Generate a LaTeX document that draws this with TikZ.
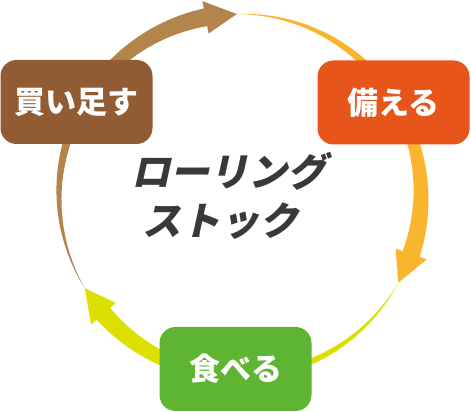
\documentclass[tikz,border=0pt]{standalone}
\usepackage{xcolor}
\usepackage{fontspec}
\newfontfamily\jpfont{Noto Sans CJK JP}
\newfontfamily\rollfont{Noto Sans CJK JP}[FakeSlant=0.22]
\definecolor{arrowBrown}{HTML}{B3844C}
\definecolor{arrowOrange}{HTML}{F8B52D}
\definecolor{arrowGreen}{HTML}{DCE000}
\definecolor{boxBrown}{HTML}{915C33}
\definecolor{boxOrange}{HTML}{E8551A}
\definecolor{boxGreen}{HTML}{5EB531}
\definecolor{rollGray}{HTML}{3B3838}
\begin{document}
\begin{tikzpicture}
[x=1pt, y=1pt,
 StepBox/.style={rectangle, rounded corners=16pt,
    text=white, inner sep=0pt,
    minimum width=152pt, minimum height=84pt,
    font=\jpfont\bfseries\fontsize{31}{36}\selectfont},
 RollText/.style={text=rollGray, inner sep=0pt,
    font=\rollfont\bfseries\fontsize{39}{46}\selectfont}]
\useasboundingbox (0,0) rectangle (471,412);
\coordinate (c) at (240,217);
% tapered arcs, 120 degrees each
\foreach \s/\col in {211/arrowBrown, 91/arrowOrange, -29/arrowGreen}{
    \pgfmathsetmacro\e{\s-110}
    \pgfmathsetmacro\t{\s-120}
    \begin{scope}[shift={(c)}]
    \fill[\col] plot[domain=\s:\e, samples=60] (\x:{181+9*(\s-\x)/110})
        -- ({\e}:197.5) -- ({\t}:181) -- ({\e}:164.5)
        -- plot[domain=\e:\s, samples=60] (\x:{181-9*(\s-\x)/110}) -- cycle;
    \end{scope}
}
\node[StepBox, fill=boxBrown] (buy) at (76.5,310) {買い足す};
\node[StepBox, fill=boxOrange] (stock) at (393.5,309.5) {備える};
\node[StepBox, fill=boxGreen] (eat) at (235.5,43) {食べる};
\node[RollText] (roll1) at (229,241) {ローリング};
\node[RollText] (roll2) at (220,191) {ストック};
\end{tikzpicture}
\end{document}
